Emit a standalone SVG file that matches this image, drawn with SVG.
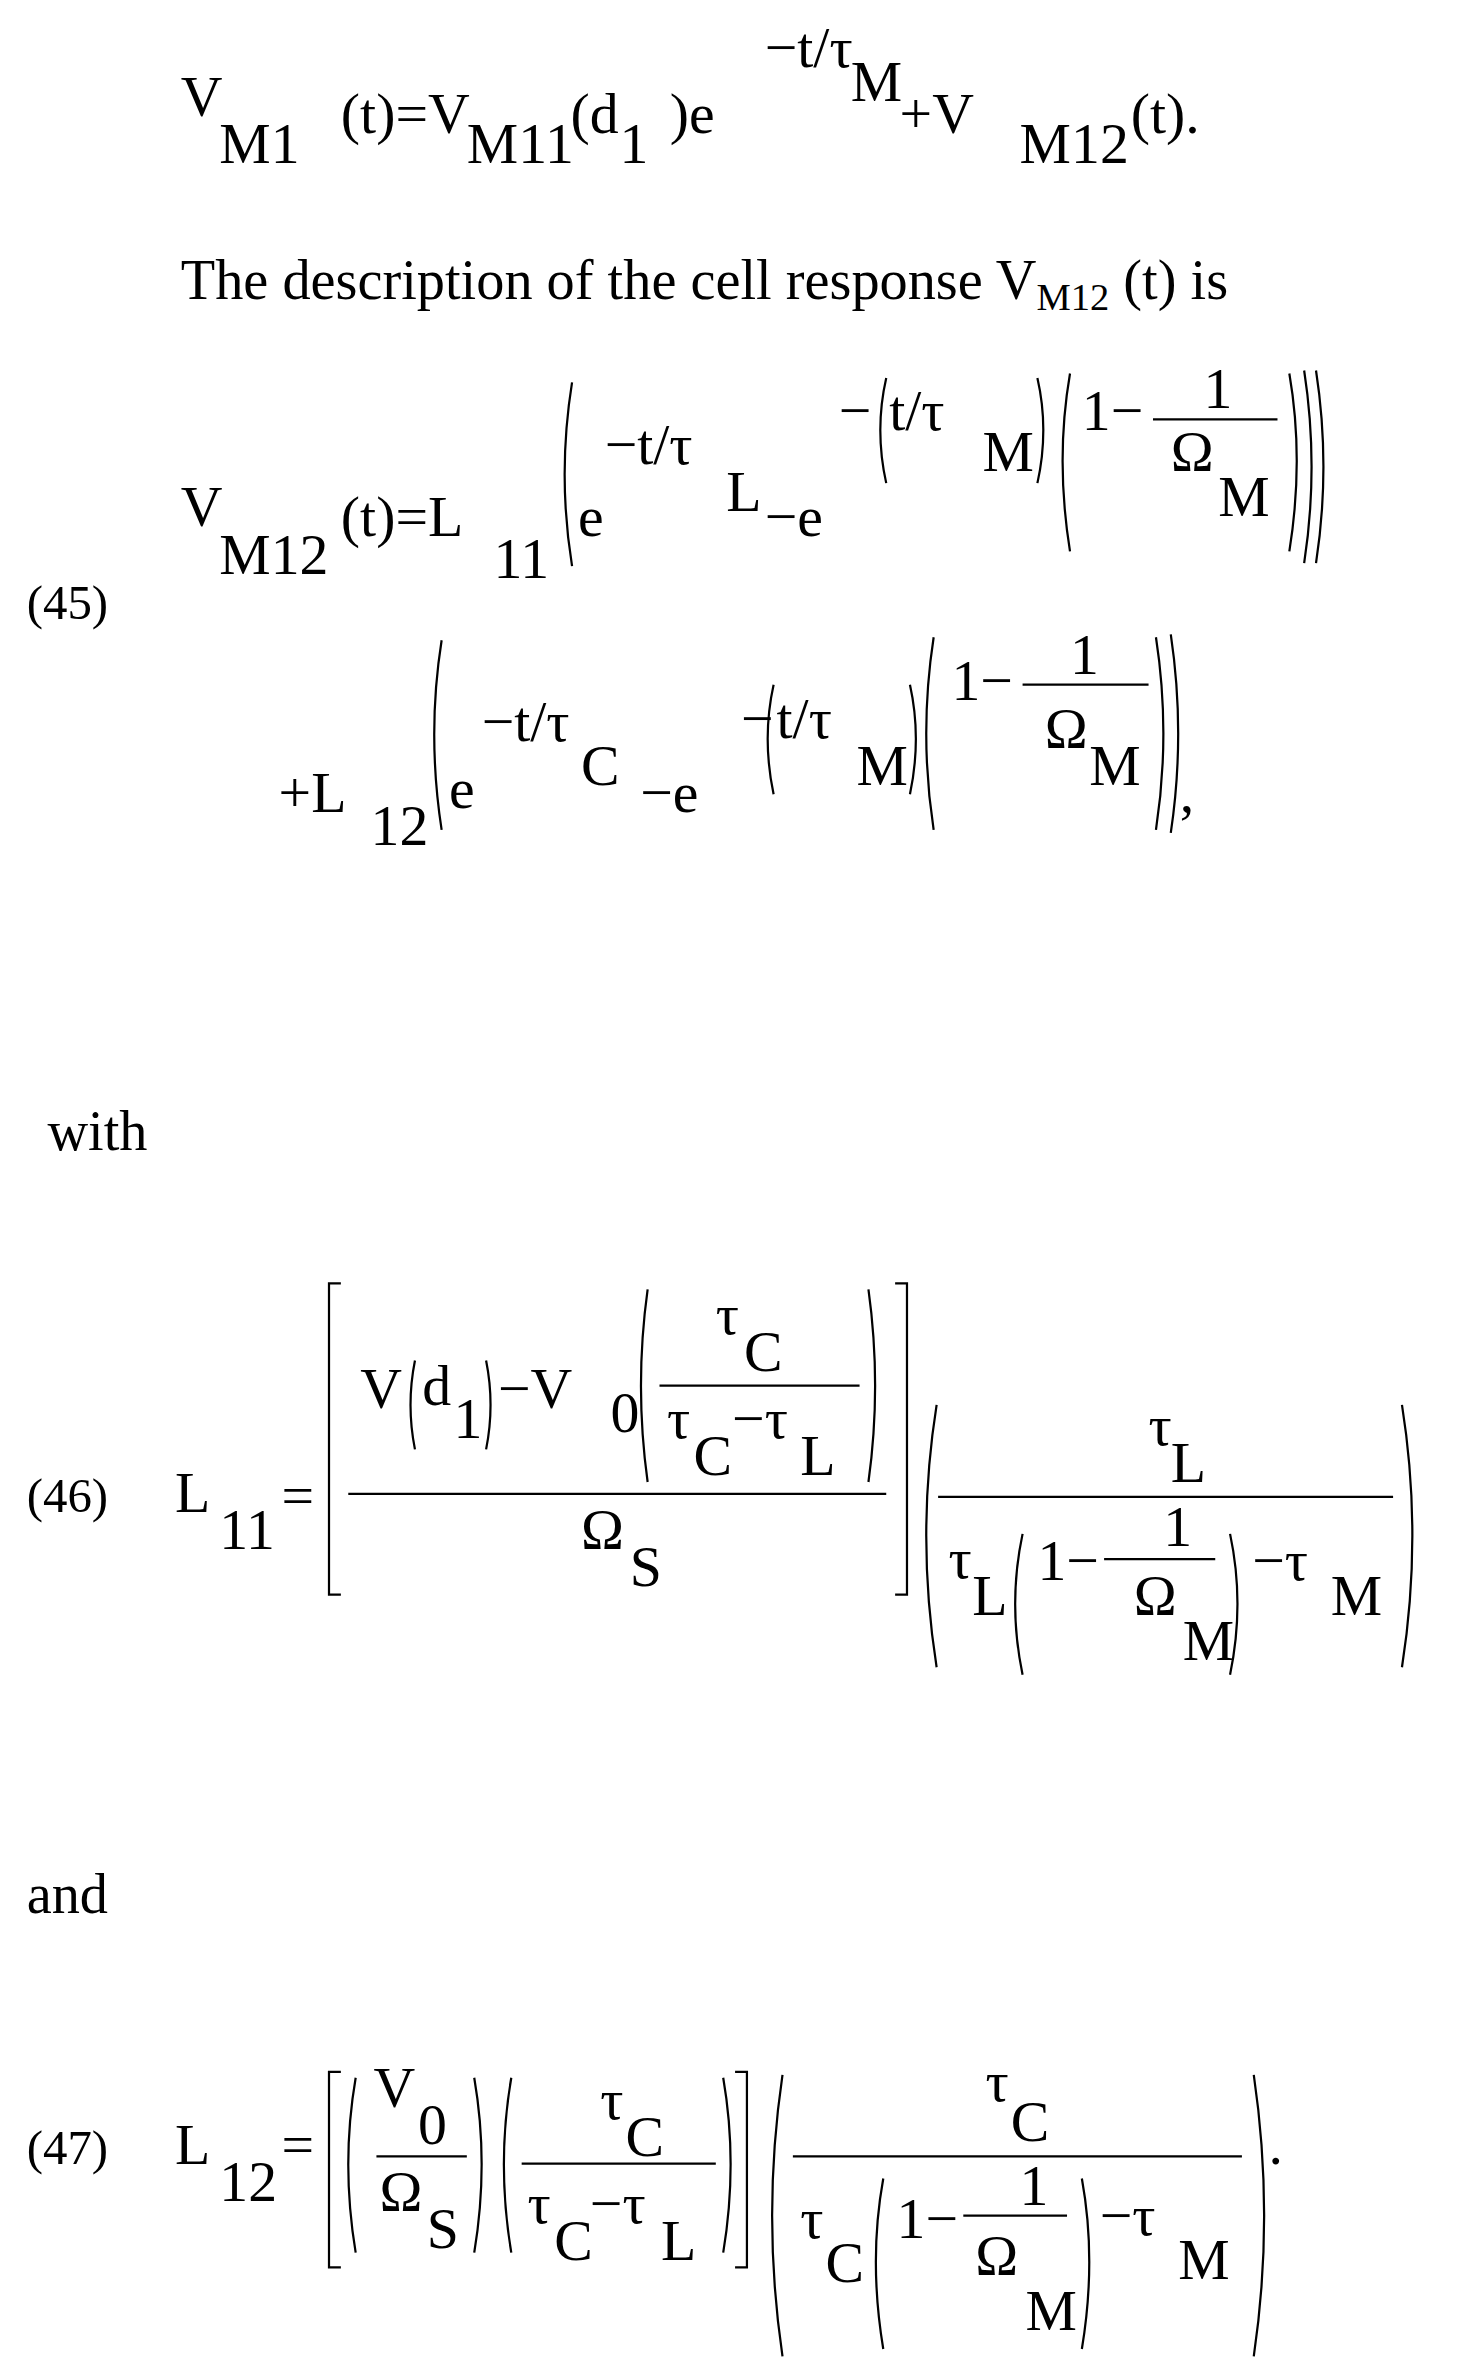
<svg xmlns="http://www.w3.org/2000/svg" width="1482" height="2360" viewBox="0 0 1482 2360">
<style>
text{font-family:"Liberation Serif",serif;font-size:39px;fill:#000}
.b{font-size:38px}
.s{font-size:26px}
.n{font-size:33px}
.l{stroke:#000;stroke-width:1.5}
.p{fill:none;stroke:#000;stroke-width:1.5}
</style>
<rect width="1482" height="2360" fill="#fff"/>
<g transform="scale(1.482)">
<g id="eq44">
<text x="122" y="78">V</text><text x="148" y="110">M1</text>
<text x="230" y="90">(t)=V</text><text x="315" y="110">M11</text>
<text x="385" y="90">(d</text><text x="418" y="110">1</text><text x="452" y="90">)e</text>
<text x="516" y="45">−t/τ</text><text x="574" y="68">M</text>
<text x="607" y="90">+V</text><text x="688" y="110">M12</text><text x="763" y="90">(t).</text>
</g>
<g id="intro">
<text class="b" x="122" y="202">The description of the cell response V<tspan class="s" dy="7">M12</tspan><tspan dy="-7"> (t) is</tspan></text>
</g>
<g id="eq45">
<text class="n" x="18" y="418">(45)</text>
<text x="122" y="355">V</text><text x="148" y="387">M12</text>
<text x="230" y="362">(t)=L</text><text x="333" y="390">11</text>
<path class="p" d="M386 258 Q376 320 386 382"/>
<text x="390" y="362">e</text>
<text x="408" y="313">−t/τ</text><text x="490" y="345">L</text>
<text x="516" y="362">−e</text>
<text x="566" y="290">−</text>
<path class="p" d="M598 255 Q590 290 598 326"/>
<text x="600" y="290">t/τ</text><text x="663" y="318">M</text>
<path class="p" d="M700 255 Q708 290 700 326"/>
<path class="p" d="M722 252 Q712 310 722 372"/>
<text x="730" y="290">1−</text>
<line class="l" x1="778" y1="283" x2="862" y2="283"/>
<text x="812" y="275">1</text><text x="790" y="318">Ω</text><text x="822" y="348">M</text>
<path class="p" d="M870 252 Q880 310 870 372"/>
<path class="p" d="M880 250 Q890 315 880 380"/>
<path class="p" d="M888 250 Q898 315 888 380"/>
<text x="188" y="548">+L</text><text x="250" y="570">12</text>
<path class="p" d="M298 432 Q288 495 298 560"/>
<text x="303" y="545">e</text>
<text x="325" y="500">−t/τ</text><text x="392" y="530">C</text>
<text x="432" y="548">−e</text>
<text x="500" y="498">−</text>
<path class="p" d="M522 462 Q514 498 522 536"/>
<text x="524" y="498">t/τ</text><text x="578" y="530">M</text>
<path class="p" d="M614 462 Q622 498 614 536"/>
<path class="p" d="M630 430 Q620 495 630 560"/>
<text x="642" y="472">1−</text>
<line class="l" x1="690" y1="462" x2="775" y2="462"/>
<text x="722" y="455">1</text><text x="705" y="505">Ω</text><text x="735" y="530">M</text>
<path class="p" d="M780 430 Q790 495 780 560"/>
<path class="p" d="M790 428 Q800 495 790 562"/>
<text x="796" y="548">,</text>
</g>
<g id="with"><text class="b" x="32" y="776">with</text></g>
<g id="eq46">
<text class="n" x="18" y="1020">(46)</text>
<text x="118" y="1020">L</text><text x="148" y="1045">11</text><text x="190" y="1022">=</text>
<path class="p" d="M230 866 H222 V1076 H230"/>
<text x="243" y="950">V</text>
<path class="p" d="M280 918 Q274 948 280 978"/>
<text x="285" y="948">d</text><text x="306" y="970">1</text>
<path class="p" d="M328 918 Q334 948 328 978"/>
<text x="336" y="950">−V</text><text x="412" y="966">0</text>
<path class="p" d="M437 870 Q428 935 437 1000"/>
<text x="483" y="900">τ</text><text x="502" y="925">C</text>
<line class="l" x1="445" y1="935" x2="580" y2="935"/>
<text x="450" y="970">τ</text><text x="468" y="995">C</text><text x="494" y="970">−τ</text><text x="540" y="995">L</text>
<path class="p" d="M586 870 Q595 935 586 1000"/>
<line class="l" x1="235" y1="1008" x2="598" y2="1008"/>
<text x="392" y="1045">Ω</text><text x="425" y="1070">S</text>
<path class="p" d="M604 866 H612 V1076 H604"/>
<path class="p" d="M632 948 Q618 1036 632 1125"/>
<text x="775" y="975">τ</text><text x="790" y="1000">L</text>
<line class="l" x1="633" y1="1010" x2="940" y2="1010"/>
<text x="640" y="1065">τ</text><text x="656" y="1090">L</text>
<path class="p" d="M690 1035 Q680 1082 690 1130"/>
<text x="700" y="1066">1−</text>
<line class="l" x1="745" y1="1052" x2="820" y2="1052"/>
<text x="785" y="1043">1</text><text x="765" y="1090">Ω</text><text x="798" y="1120">M</text>
<path class="p" d="M830 1035 Q840 1082 830 1130"/>
<text x="845" y="1066">−τ</text><text x="898" y="1090">M</text>
<path class="p" d="M946 948 Q960 1036 946 1125"/>
</g>
<g id="and"><text class="b" x="18" y="1291">and</text></g>
<g id="eq47">
<text class="n" x="18" y="1460">(47)</text>
<text x="118" y="1460">L</text><text x="148" y="1485">12</text><text x="190" y="1460">=</text>
<path class="p" d="M230 1398 H222 V1530 H230"/>
<path class="p" d="M240 1402 Q230 1460 240 1520"/>
<text x="252" y="1422">V</text><text x="282" y="1447">0</text>
<line class="l" x1="254" y1="1455" x2="315" y2="1455"/>
<text x="256" y="1492">Ω</text><text x="288" y="1517">S</text>
<path class="p" d="M320 1402 Q330 1460 320 1520"/>
<path class="p" d="M345 1402 Q335 1460 345 1520"/>
<text x="405" y="1430">τ</text><text x="422" y="1455">C</text>
<line class="l" x1="352" y1="1460" x2="483" y2="1460"/>
<text x="356" y="1500">τ</text><text x="374" y="1525">C</text><text x="398" y="1500">−τ</text><text x="446" y="1525">L</text>
<path class="p" d="M488 1402 Q498 1460 488 1520"/>
<path class="p" d="M496 1398 H504 V1530 H496"/>
<path class="p" d="M528 1400 Q514 1495 528 1590"/>
<text x="665" y="1418">τ</text><text x="682" y="1445">C</text>
<line class="l" x1="535" y1="1455" x2="838" y2="1455"/>
<text x="540" y="1510">τ</text><text x="557" y="1540">C</text>
<path class="p" d="M596 1470 Q586 1525 596 1585"/>
<text x="605" y="1510">1−</text>
<line class="l" x1="650" y1="1495" x2="720" y2="1495"/>
<text x="688" y="1488">1</text><text x="658" y="1535">Ω</text><text x="692" y="1572">M</text>
<path class="p" d="M730 1470 Q740 1525 730 1585"/>
<text x="742" y="1508">−τ</text><text x="795" y="1538">M</text>
<path class="p" d="M846 1400 Q860 1495 846 1590"/>
<text x="856" y="1460">.</text>
</g>
</g>
</svg>
